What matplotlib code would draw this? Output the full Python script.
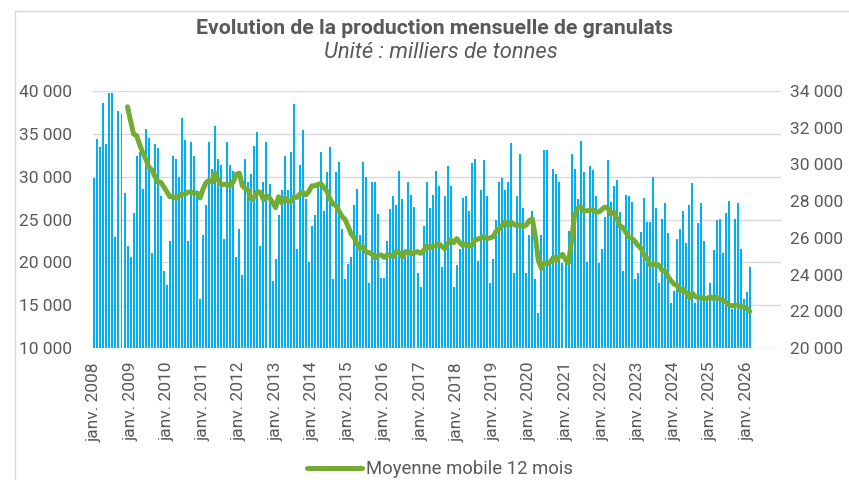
import numpy as np
import pandas as pd
import matplotlib
matplotlib.use("Agg")
import matplotlib.pyplot as plt
from matplotlib.patches import Rectangle
from matplotlib.ticker import FuncFormatter

plt.rcParams["font.family"] = ["Roboto", "DejaVu Sans"]

GRIS = "#595959"
BLEU = "#00B0F0"
VERT = "#72AC32"
GRILLE = "#D9D9D9"

# production mensuelle (milliers de tonnes), janv. -> déc.
prod_2008 = [29800, 34400, 33500, 38600, 33800, 39800, 39800, 23000, 37700, 37300, 28100, 21900]
prod_2009 = [20600, 25800, 32400, 32900, 28600, 35600, 34500, 21100, 33800, 33300, 27800, 19000]
prod_2010 = [17400, 22500, 32400, 32100, 30000, 36800, 34300, 22500, 34000, 32400, 28000, 15700]
prod_2011 = [23200, 26700, 34000, 30900, 35900, 32100, 31400, 22700, 34000, 31400, 30700, 20600]
prod_2012 = [23900, 18500, 32100, 29400, 30300, 33600, 35200, 21900, 29400, 34000, 29200, 17800]
prod_2013 = [20400, 25500, 28400, 32400, 28400, 32900, 38500, 21500, 31400, 35400, 27400, 20000]
prod_2014 = [24200, 25500, 29300, 32900, 26000, 30500, 33500, 18000, 30500, 31700, 23900, 18000]
prod_2015 = [19800, 20600, 26700, 28600, 23200, 31700, 30000, 17600, 29400, 29400, 25600, 18200]
prod_2016 = [18200, 22500, 26200, 27700, 26700, 30700, 27400, 21000, 29400, 27900, 26500, 18800]
prod_2017 = [17100, 24200, 29400, 26300, 27900, 30700, 28900, 19500, 27700, 31200, 28900, 17100]
prod_2018 = [19700, 21500, 27500, 27700, 26000, 31600, 32100, 20200, 28500, 31900, 27700, 17600]
prod_2019 = [20400, 24900, 29400, 29800, 28400, 29400, 33900, 18800, 27800, 32600, 26300, 18800]
prod_2020 = [23200, 26000, 18000, 14100, 23200, 33100, 33100, 20000, 30900, 30300, 29400, 19900]
prod_2021 = [19900, 23700, 32600, 30900, 27400, 34200, 30500, 20000, 31200, 30800, 27800, 19900]
prod_2022 = [21500, 25300, 31900, 27000, 28900, 29600, 25900, 19000, 27900, 27700, 27000, 18000]
prod_2023 = [18800, 23500, 27500, 24700, 24700, 30000, 26300, 17600, 25100, 26900, 23400, 15300]
prod_2024 = [16700, 22700, 23900, 26000, 22200, 26700, 29300, 15300, 24600, 26900, 22500, 15800]
prod_2025 = [17600, 21400, 24900, 25100, 21100, 25800, 27200, 14600, 25100, 26900, 21500, 15700]
prod_2026 = [16500, 19500]

production = np.array(
    prod_2008 + prod_2009 + prod_2010 + prod_2011 + prod_2012 + prod_2013
    + prod_2014 + prod_2015 + prod_2016 + prod_2017 + prod_2018 + prod_2019
    + prod_2020 + prod_2021 + prod_2022 + prod_2023 + prod_2024 + prod_2025
    + prod_2026, dtype=float)

annees = list(range(2008, 2027))
etiquettes = [f"janv. {a}" for a in annees]

moyenne_mobile = pd.Series(production).rolling(12).mean()
x = np.arange(len(production))


def milliers(v, pos):
    return f"{v:,.0f}".replace(",", " ")


fig = plt.figure(figsize=(8.49, 4.8), dpi=100)
ax = fig.add_axes([0.1091, 0.275, 0.8103, 0.5354])
ax2 = ax.twinx()

ax.bar(x, production, width=0.66, color=BLEU, linewidth=0, zorder=2)
ax.set_xlim(-0.56, 227.2)
ax.set_ylim(10000, 40000)
ax.set_yticks(range(10000, 40001, 5000))
ax.yaxis.set_major_formatter(FuncFormatter(milliers))
ax.grid(axis="y", color=GRILLE, linewidth=1)
ax.set_axisbelow(True)
ax.set_xticks([12 * (a - 2008) for a in annees], etiquettes, rotation=90)
ax.tick_params(axis="x", length=0, pad=10, labelsize=12.5, labelcolor=GRIS)
ax.tick_params(axis="y", length=0, pad=14.5, labelsize=12.5, labelcolor=GRIS)

ligne, = ax2.plot(x, moyenne_mobile, color=VERT, linewidth=3.6,
                  solid_capstyle="round", solid_joinstyle="round")
ax2.set_ylim(20000, 34000)
ax2.set_yticks(range(20000, 34001, 2000))
ax2.yaxis.set_major_formatter(FuncFormatter(milliers))
ax2.tick_params(axis="y", length=0, pad=7, labelsize=12.5, labelcolor=GRIS)

for a in (ax, ax2):
    for s in a.spines.values():
        s.set_visible(False)

fig.text(435 / 849, 1 - 28 / 480, "Evolution de la production mensuelle de granulats",
         ha="center", va="center", fontsize=15.3, fontweight="bold", color=GRIS)
fig.text(441 / 849, 1 - 52 / 480, "Unité : milliers de tonnes",
         ha="center", va="center", fontsize=15.8, style="italic", color=GRIS)

fig.legend([ligne], ["Moyenne mobile 12 mois"], loc="center",
           bbox_to_anchor=(440 / 849, 1 - 469 / 480), frameon=False,
           fontsize=13.3, handlelength=3.0, handletextpad=0.2, labelcolor=GRIS)

# cadre du graphique
fig.add_artist(Rectangle((15 / 849, -0.1), 1.2, 1 - 11 / 480 + 0.1,
                         transform=fig.transFigure, fill=False,
                         edgecolor=GRILLE, linewidth=1))

fig.savefig("out.png", dpi=100)
